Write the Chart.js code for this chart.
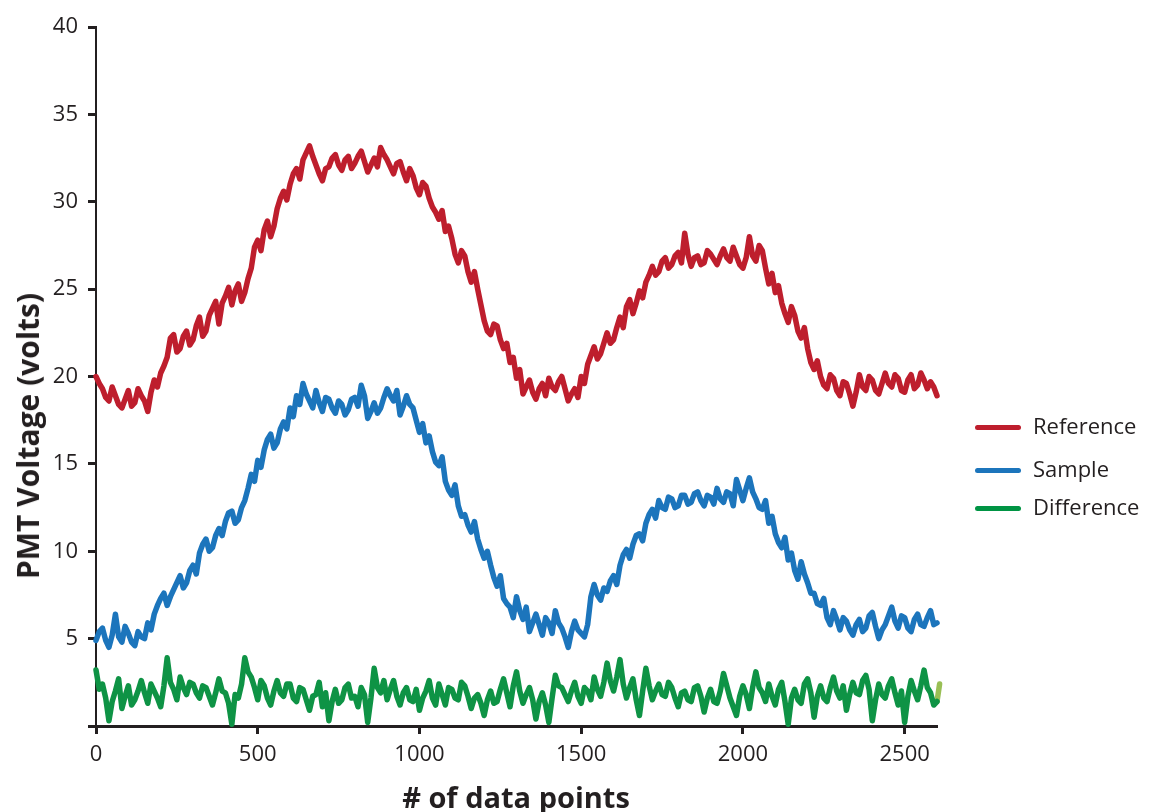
<!DOCTYPE html>
<html>
<head>
<meta charset="utf-8">
<script src="https://cdn.jsdelivr.net/npm/chart.js@4.4.1/dist/chart.umd.min.js"></script>
<style>
  html, body { margin: 0; padding: 0; background: #fff; }
  #wrap { position: relative; width: 1149px; height: 812px; font-family: "Open Sans", sans-serif; color: #231f20; }
  #chart { position: absolute; left: 0; top: 0; }
  .legend-line { position: absolute; left: 975px; width: 46px; height: 5px; border-radius: 3px; }
  .legend-text { position: absolute; left: 1033px; font-size: 22px; line-height: 22px; }
  #ytitle { position: absolute; left: 28px; top: 436px; transform: translate(-50%, -50%) rotate(-90deg); font-size: 30px; font-weight: bold; white-space: nowrap; line-height: 32px; }
  #xtitle { position: absolute; left: 516px; top: 782px; transform: translateX(-50%); font-size: 29px; font-weight: bold; white-space: nowrap; line-height: 30px; }
</style>
</head>
<body>
<div id="wrap">
  <canvas id="chart" width="1149" height="812"></canvas>
  <div id="ytitle">PMT Voltage (volts)</div>
  <div id="xtitle"># of data points</div>
  <div class="legend-line" style="top:425px;background:#be1e2d"></div>
  <div class="legend-text" style="top:414px">Reference</div>
  <div class="legend-line" style="top:468px;background:#1c75bc"></div>
  <div class="legend-text" style="top:457px">Sample</div>
  <div class="legend-line" style="top:506px;background:#009444"></div>
  <div class="legend-text" style="top:495px">Difference</div>
</div>
<script>
// one reading every 10 data points, 0..2600
const xValues = [];
for (let i = 0; i <= 2600; i += 10) xValues.push(i);

const referenceValues = [
  20.0, 19.6, 19.3, 18.8, 18.6, 19.4, 18.9, 18.4, 18.2, 18.7,
  19.2, 18.3, 18.5, 19.3, 18.9, 18.6, 18.0, 19.1, 19.8, 19.4,
  20.2, 20.6, 21.1, 22.2, 22.4, 21.4, 21.6, 22.3, 22.6, 21.8,
  22.1, 22.9, 23.4, 22.3, 22.6, 23.5, 23.9, 24.3, 23.0, 24.2,
  24.6, 25.1, 24.1, 24.9, 25.3, 24.3, 24.8, 25.6, 26.2, 27.4,
  27.8, 27.2, 28.4, 28.9, 28.0, 28.6, 29.6, 30.2, 30.6, 30.1,
  31.0, 31.6, 31.9, 31.3, 32.4, 32.8, 33.2, 32.6, 32.1, 31.6,
  31.2, 31.9, 32.0, 32.5, 32.7, 32.1, 31.8, 32.4, 32.6, 31.9,
  32.2, 32.6, 32.9, 32.3, 31.7, 32.1, 32.5, 32.0, 33.1, 32.7,
  32.4, 32.0, 31.6, 32.2, 32.3, 31.7, 31.2, 31.9, 31.5, 30.8,
  30.4, 31.1, 30.9, 30.2, 29.7, 29.4, 29.0, 29.5, 28.3, 28.6,
  27.9, 27.0, 26.5, 27.2, 26.9, 26.0, 25.4, 26.0, 25.0, 24.1,
  23.2, 22.6, 22.4, 23.0, 22.9, 22.1, 21.6, 21.9, 20.8, 21.1,
  19.9, 20.4, 19.0, 19.4, 19.8, 19.1, 18.7, 19.3, 19.6, 18.9,
  19.9, 19.4, 19.2, 19.7, 20.0, 19.3, 18.6, 19.0, 19.3, 18.8,
  20.0, 19.6, 20.7, 21.2, 21.7, 21.0, 21.3, 21.9, 22.5, 21.9,
  22.1, 22.8, 23.4, 22.8, 24.0, 24.4, 23.6, 24.2, 24.9, 24.5,
  25.4, 25.8, 26.3, 25.8, 26.0, 26.6, 26.8, 26.2, 26.4, 26.9,
  27.1, 26.5, 28.2, 27.0, 26.3, 26.8, 26.9, 26.4, 26.5, 27.2,
  27.0, 26.7, 26.4, 26.9, 27.3, 26.8, 26.6, 27.4, 26.9, 26.4,
  26.2, 26.8, 28.0, 26.9, 26.6, 27.5, 27.2, 26.2, 25.3, 25.9,
  24.8, 25.2, 24.2, 23.6, 23.1, 24.0, 23.5, 22.6, 22.2, 22.8,
  21.6, 20.8, 20.4, 20.9, 20.0, 19.5, 19.3, 20.1, 19.9, 19.2,
  18.9, 19.7, 19.6, 19.0, 18.3, 19.1, 20.1, 19.4, 19.2, 20.0,
  19.8, 19.2, 19.0, 19.6, 20.2, 19.6, 19.4, 20.1, 19.9, 19.2,
  19.1, 19.8, 20.1, 19.3, 19.5, 20.2, 19.8, 19.3, 19.7, 19.4,
  18.9
];

const sampleValues = [
  4.9, 5.4, 5.6, 4.9, 4.5, 5.2, 6.4, 5.1, 4.8, 5.7,
  5.3, 4.8, 4.6, 5.4, 5.1, 5.0, 5.9, 5.5, 6.4, 6.9,
  7.3, 7.6, 6.9, 7.4, 7.8, 8.2, 8.6, 7.9, 8.2, 8.9,
  9.2, 8.7, 9.9, 10.4, 10.7, 10.0, 10.2, 10.9, 11.3, 10.9,
  11.7, 12.2, 12.3, 11.6, 11.8, 12.5, 12.9, 13.6, 14.4, 14.0,
  15.2, 14.8, 15.8, 16.4, 16.7, 15.9, 16.2, 17.0, 17.4, 17.0,
  18.2, 17.7, 18.9, 18.4, 19.6, 19.0, 18.6, 18.2, 19.2, 18.5,
  18.0, 18.8, 18.7, 18.2, 17.9, 18.6, 18.4, 17.8, 18.1, 18.7,
  18.8, 18.3, 19.5, 18.9, 17.6, 18.0, 18.5, 17.9, 18.2, 18.8,
  19.3, 18.9, 18.6, 19.2, 17.8, 18.3, 18.9, 18.4, 18.2, 17.5,
  16.8, 17.3, 16.2, 16.6, 15.7, 15.1, 14.9, 15.4, 14.0, 13.5,
  13.2, 13.8, 12.6, 12.0, 12.1, 11.5, 11.1, 11.7, 10.7, 10.1,
  9.6, 10.0, 9.2, 8.5, 8.0, 8.6, 7.3, 7.0, 6.8, 6.2,
  7.4, 6.6, 6.1, 6.8, 5.4, 5.9, 6.4, 5.8, 5.2, 6.2,
  5.9, 5.3, 6.6, 5.9, 5.6, 5.1, 4.5, 5.4, 6.0, 5.5,
  5.3, 5.1, 5.8, 7.4, 8.1, 7.5, 7.2, 7.9, 7.7, 8.3,
  8.6, 8.1, 9.2, 9.8, 10.1, 9.6, 10.4, 10.9, 11.0, 10.6,
  11.6, 12.1, 12.4, 11.9, 12.9, 12.5, 12.4, 13.1, 13.0, 12.5,
  12.6, 13.2, 13.2, 12.7, 12.8, 13.3, 13.4, 12.9, 12.6, 13.2,
  13.1, 12.7, 13.6, 13.0, 12.8, 13.4, 13.3, 12.6, 14.1, 13.5,
  12.9, 13.6, 14.2, 13.4, 13.0, 12.5, 12.4, 12.9, 11.6, 12.0,
  11.0, 10.5, 10.2, 10.8, 9.5, 9.9, 8.9, 8.4, 9.4, 8.7,
  8.2, 7.6, 7.6, 7.0, 6.9, 7.3, 6.2, 5.8, 6.6, 6.1,
  5.5, 6.2, 6.0, 5.5, 5.2, 5.8, 6.1, 5.4, 5.6, 6.3,
  6.5, 5.7, 5.0, 5.5, 5.8, 6.3, 6.8, 6.0, 5.6, 6.3,
  6.2, 5.6, 5.4, 6.1, 6.4, 5.8, 5.7, 6.2, 6.6, 5.8,
  5.9
];

const differenceValues = [
  3.2, 2.1, 2.4, 1.6, 0.3, 1.4, 2.0, 2.7, 1.0, 1.7,
  2.3, 1.2, 1.5, 2.0, 2.6, 1.9, 1.3, 2.4, 2.0, 1.6,
  1.1, 2.3, 3.9, 2.5, 2.1, 1.5, 2.8, 2.2, 1.8, 2.5,
  2.4, 1.9, 1.6, 2.3, 2.2, 1.7, 1.2, 1.9, 2.7, 2.0,
  1.9, 1.3, 0.1, 1.8, 1.6, 2.4, 3.9, 3.1, 2.8, 2.2,
  1.5, 2.6, 2.3, 1.6, 1.2, 2.0, 2.6, 1.9, 1.7, 2.4,
  2.4, 1.6, 1.4, 2.2, 2.1, 1.5, 0.9, 1.7, 1.8, 2.5,
  1.1, 1.9, 0.3, 1.4, 2.1, 1.3, 1.5, 2.2, 2.4, 1.6,
  1.7, 1.1, 2.2, 1.8, 0.2, 1.6, 3.3, 2.2, 1.9, 2.6,
  1.5, 2.1, 2.6, 1.7, 1.2, 1.9, 2.2, 1.5, 1.4, 2.1,
  0.9, 1.6, 2.0, 2.6, 1.6, 1.2, 2.4, 1.8, 1.2, 2.2,
  2.1, 1.6, 1.5, 2.5, 2.3, 1.7, 1.0, 1.6, 1.8, 1.3,
  0.6, 1.5, 2.0, 1.3, 1.4, 2.1, 2.7, 1.9, 1.1, 2.3,
  3.1, 2.0, 1.3, 1.8, 2.2, 1.5, 0.4, 1.4, 1.9, 1.2,
  0.2, 1.6, 2.9, 2.3, 2.2, 1.8, 1.4, 2.0, 2.5, 1.7,
  1.3, 2.2, 2.0, 1.5, 2.8, 2.1, 1.7, 2.5, 3.6, 2.6,
  2.0, 2.8, 3.8, 2.4, 1.6, 2.2, 2.7, 1.5, 0.6, 2.0,
  3.3, 2.3, 1.5, 2.0, 2.4, 1.8, 1.7, 2.5, 2.2, 1.6,
  1.1, 1.9, 2.0, 1.5, 1.4, 2.2, 2.3, 1.7, 0.8, 1.6,
  2.1, 1.4, 1.3, 2.0, 3.0, 2.3, 1.6, 1.1, 0.6, 1.7,
  2.3, 1.8, 1.0, 2.2, 3.1, 2.2, 1.9, 1.4, 2.4, 1.7,
  1.2, 2.1, 2.5, 1.4, 0.1, 1.6, 2.1, 1.5, 1.3, 2.4,
  2.7, 1.9, 0.5, 1.7, 2.3, 1.6, 1.4, 2.2, 2.8, 2.0,
  1.6, 2.3, 0.9, 1.8, 2.5, 1.9, 1.8, 2.6, 2.9, 2.1,
  0.3, 1.5, 2.4, 1.8, 1.6, 2.3, 2.7, 1.9, 1.2, 2.0,
  0.2, 1.7, 2.6, 2.0, 1.5, 2.3, 3.2, 2.2, 1.9, 1.2,
  1.4
];

// short light-green stub past the end of the axis
const tailX = [2600, 2608, 2614, 2620, 2627];
const tailValues = [1.4, 2.4, 0.6, 2.5, 1.8];

const xTicks = [0, 500, 1000, 1500, 2000, 2500];
const yTicks = [5, 10, 15, 20, 25, 30, 35, 40];

const ink = '#231f20';

function toPoints(xs, ys) {
    return xs.map((x, i) => ({ x: x, y: ys[i] }));
}

function lineSet(label, xs, ys, color) {
    return {
        label,
        data: toPoints(xs, ys),
        borderColor: color,
        borderWidth: 5.5,
        pointRadius: 0,
        tension: 0,
        borderJoinStyle: 'round',
        borderCapStyle: 'round',
        clip: false
    };
}

new Chart(document.getElementById('chart'), {
    type: 'line',
    data: {
        datasets: [
            lineSet('Difference', xValues, differenceValues, '#0e9345'),
            lineSet('Tail', tailX, tailValues, '#99bf55'),
            lineSet('Sample', xValues, sampleValues, '#1c75bc'),
            lineSet('Reference', xValues, referenceValues, '#be1e2d')
        ]
    },
    options: {
        responsive: false,
        animation: false,
        layout: { padding: { left: 0, top: 27, right: 212, bottom: 0 } },
        plugins: {
            legend: { display: false },
            tooltip: { enabled: false }
        },
        scales: {
            x: {
                type: 'linear',
                min: 0,
                max: 2600,
                afterFit: scale => { scale.height = 86; },
                afterBuildTicks: scale => { scale.ticks = xTicks.map(v => ({ value: v })); },
                border: { display: true, color: ink, width: 3 },
                grid: { drawOnChartArea: false, drawTicks: true, tickLength: 8, tickWidth: 3, tickColor: ink },
                ticks: {
                    color: ink,
                    padding: 8,
                    maxRotation: 0,
                    font: { family: 'Open Sans', size: 22 },
                    callback: v => String(v)
                }
            },
            y: {
                min: 0,
                max: 40,
                afterFit: scale => { scale.width = 96; },
                afterBuildTicks: scale => { scale.ticks = [0].concat(yTicks).map(v => ({ value: v })); },
                border: { display: true, color: ink, width: 2 },
                grid: { drawOnChartArea: false, drawTicks: true, tickLength: 8, tickWidth: 3, tickColor: ink },
                ticks: {
                    color: ink,
                    padding: 10,
                    font: { family: 'Open Sans', size: 22 },
                    callback: v => (v === 0 ? '' : String(v))
                }
            }
        }
    }
});
</script>
</body>
</html>
